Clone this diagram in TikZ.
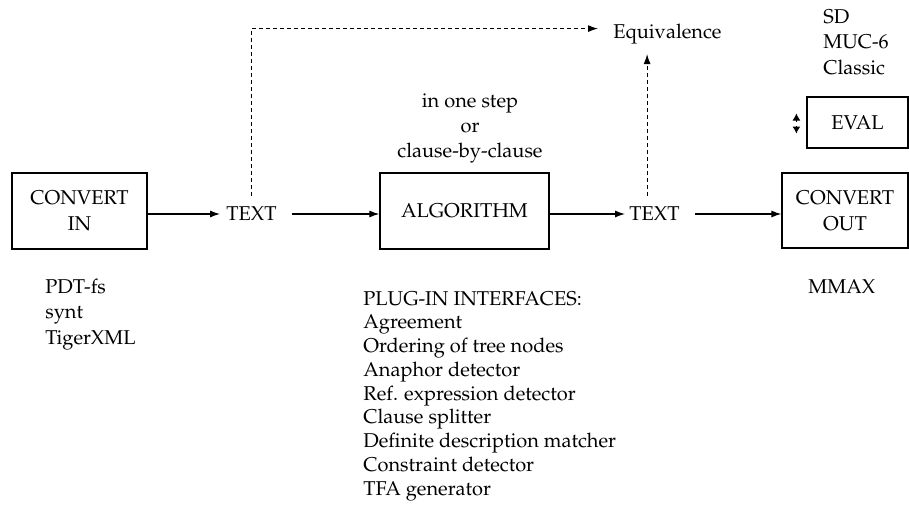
\documentclass[tikz,border=0pt]{standalone}
\usepackage[T1]{fontenc}
\usepackage{mathpazo}
\usetikzlibrary{arrows.meta}
\begin{document}
\begin{tikzpicture}[x=0.5pt,y=-0.5pt,
  every node/.style={font=\fontsize{10}{12}\selectfont},
  txt/.style={inner sep=0pt},
  boxnode/.style={draw,line width=0.6pt,inner sep=0pt,align=center,font=\fontsize{10}{13}\selectfont},
  conn/.style={line width=0.6pt,-{Latex[length=5pt,width=3.5pt]}},
  dconn/.style={conn,dash pattern=on 2pt off 1.5pt}]
\useasboundingbox (0,0) rectangle (909,520);

% boxes
\node[boxnode,minimum width=67.5pt,minimum height=38pt] (convin) at (79.5,211) {CONVERT\\IN};
\node[boxnode,minimum width=84.5pt,minimum height=38pt] (algo) at (464.5,211) {ALGORITHM};
\node[boxnode,minimum width=63pt,minimum height=37.5pt] (convout) at (845,210.5) {CONVERT\\OUT};
\node[boxnode,minimum width=50.5pt,minimum height=25.5pt] (eval) at (857.5,122.5) {EVAL};

% plain labels
\node[txt] (text1) at (251.5,214) {TEXT};
\node[txt] (text2) at (654.5,214) {TEXT};
\node[txt,anchor=base west] (equiv) at (613,38) {Equivalence};

\node[txt,anchor=base] (s1) at (470,107) {in one step};
\node[txt,anchor=base] (s2) at (470,132) {or};
\node[txt,anchor=base] (s3) at (470,157) {clause-by-clause};

\node[txt,anchor=base west] (in1) at (45,293) {PDT-fs};
\node[txt,anchor=base west] (in2) at (45,318.5) {synt};
\node[txt,anchor=base west] (in3) at (45,344) {TigerXML};

\node[txt,anchor=base west] (ev1) at (823,23) {SD};
\node[txt,anchor=base west] (ev2) at (823,48.5) {MUC-6};
\node[txt,anchor=base west] (ev3) at (823,74) {Classic};

\node[txt,anchor=base west] (out1) at (808,293) {MMAX};

\foreach \t [count=\i from 0] in {PLUG-IN INTERFACES:,Agreement,Ordering of tree nodes,Anaphor detector,Ref. expression detector,Clause splitter,Definite description matcher,Constraint detector,TFA generator}
  \node[txt,anchor=base west] (pl\i) at (363,305+23.75*\i) {\t};

% main connectors
\draw[conn,shorten >=3pt] (convin.east |- text1.west) -- (text1.west);
\draw[conn,shorten <=7.5pt] (text1.east) -- (algo.west |- text1.east);
\draw[conn,shorten >=2pt] (algo.east |- text2.west) -- (text2.west);
\draw[conn,shorten <=7.5pt] (text2.east) -- (convout.west |- text2.east);

% dashed connectors
\draw[dconn,shorten <=5.5pt,shorten >=7.5pt] (text1.north) |- ([yshift=2.5pt]equiv.west);
\draw[dconn,shorten <=5.5pt,shorten >=5pt] ([xshift=-3.7pt]text2.north) -- ([xshift=-3.7pt]text2.north |- equiv.south);

% small double arrow at EVAL
\coordinate (evc) at ([xshift=-5pt,yshift=-0.5pt]eval.west);
\draw[line width=0.5pt,-{Latex[length=3.5pt,width=4pt]}] ([yshift=1pt]evc) -- ([yshift=5pt]evc);
\draw[line width=0.5pt,-{Latex[length=3.5pt,width=4pt]}] ([yshift=-1pt]evc) -- ([yshift=-5pt]evc);
\end{tikzpicture}
\end{document}
